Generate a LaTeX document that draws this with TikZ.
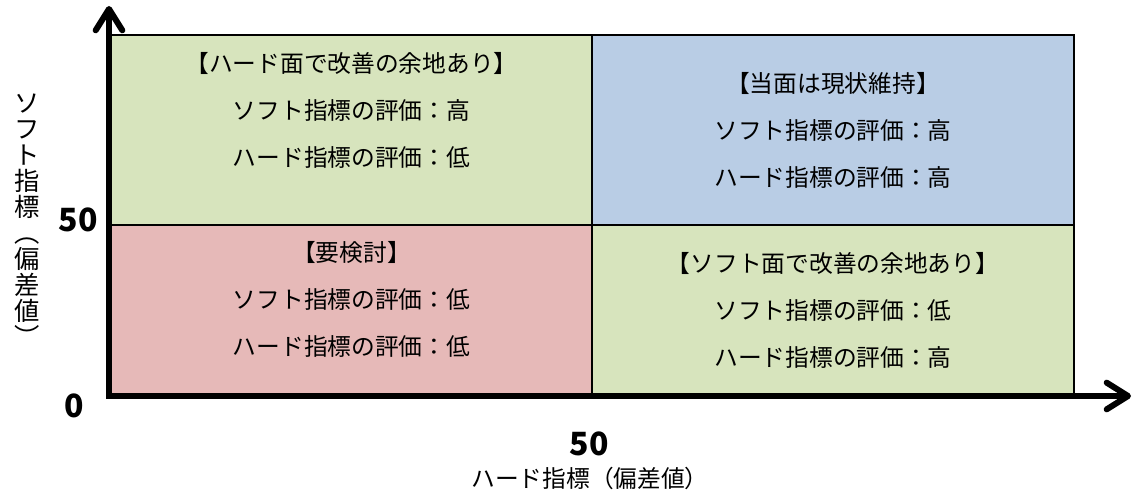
\documentclass[tikz,border=0pt]{standalone}
\usepackage{fontspec}
\setmainfont{Noto Sans CJK JP}
\usetikzlibrary{arrows.meta}
\definecolor{CellGreen}{HTML}{D7E4BD}
\definecolor{CellBlue}{HTML}{B9CDE5}
\definecolor{CellPink}{HTML}{E6B9B8}
\tikzset{
    cell/.style={rectangle, draw, line width = 1.5pt, inner sep = 0, outer sep = 0,
                minimum width = 361.5pt, minimum height = 142.5pt},
    lowcell/.style={cell, minimum height = 128.25pt},
    celltext/.style={anchor=center, align=center, inner sep = 0,
                font=\fontsize{17.8}{35.25}\selectfont},
    ticklabel/.style={anchor=center, inner sep = 0, font=\bfseries\fontsize{24}{24}\selectfont},
    axistitle/.style={anchor=center, inner sep = 0, font=\fontsize{17.8}{19.5}\selectfont},
    axis/.style={line width = 4.5pt, line join = miter,
                {Straight Barb[length=16pt, width=20pt, round]}-{Straight Barb[length=16pt, width=20pt, round]}},
}
\newcommand{\evalText}[5]{%
    \node[celltext] (#1-t) at ([yshift=#2]#1.center) {#3\\#4\\#5};
}

\begin{document}
\begin{tikzpicture}[x=0.75pt, y=-0.75pt]
        \useasboundingbox (0,0) rectangle (1135,495);
        % Quadrants
        \node[cell, fill=CellGreen] (Q1c1) at (351.5,130) {};
        \evalText{Q1c1}{15pt}{【ハード面で改善の余地あり】}{ソフト指標の評価：高}{ハード指標の評価：低}
        \node[cell, fill=CellBlue] (Q1c2) at (833,130) {};
        \evalText{Q1c2}{0pt}{【当面は現状維持】}{ソフト指標の評価：高}{ハード指標の評価：高}
        %
        \node[lowcell, fill=CellPink] (Q2c1) at (351.5,310.5) {};
        \evalText{Q2c1}{8.5pt}{【要検討】}{ソフト指標の評価：低}{ハード指標の評価：低}
        \node[lowcell, fill=CellGreen] (Q2c2) at (833,310.5) {};
        \evalText{Q2c2}{0pt}{【ソフト面で改善の余地あり】}{ソフト指標の評価：低}{ハード指標の評価：高}
        %
        % Axes
        \coordinate (O) at (109,396);
        \coordinate (Xend) at (1131,396);
        \coordinate (Yend) at (109,6);
        \draw[axis] (Xend) -- (O) -- (Yend);
        %
        % Labels
        \node[ticklabel] (Y50) at (78,220) {50};
        \node[ticklabel] (Y0) at (74,406) {0};
        \node[ticklabel] (X50) at (589,444) {50};
        \node[axistitle] (Xtitle) at (590,478) {ハード指標（偏差値）};
        \node[axistitle, align=center, font=\fontsize{19}{19.5}\selectfont] (Ytitle) at (27,220)
            {ソ\\フ\\ト\\指\\標\\︵\\偏\\差\\値\\︶};
    \end{tikzpicture}
\end{document}
